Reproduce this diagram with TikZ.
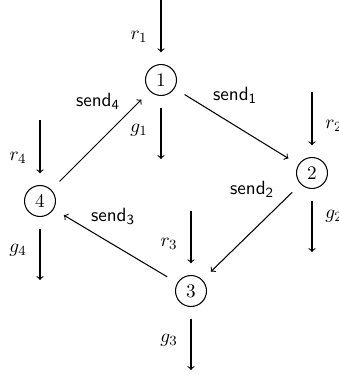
\documentclass[tikz,border=0pt]{standalone}
\usetikzlibrary{arrows}
\begin{document}
\begin{tikzpicture}[x=0.5714pt,y=-0.5714pt,
  every node/.style={font=\fontsize{11}{13}\selectfont},
  proc/.style={circle,draw,semithick,minimum size=17.7pt,inner sep=0pt,outer sep=7pt},
  flow/.style={->,semithick},
  lab/.style={inner sep=0pt}]
\useasboundingbox (0,0) rectangle (338,375);
\clip (0,0) rectangle (338,375);
% processes
\node[proc] (n1) at (161,80) {$1$};
\node[proc] (n2) at (312,173) {$2$};
\node[proc] (n3) at (191,291) {$3$};
\node[proc] (n4) at (40,201) {$4$};
% free ends
\coordinate (r1s) at (161,0);
\coordinate (r2s) at (312,92);
\coordinate (r3s) at (191,211);
\coordinate (r4s) at (40,120);
\coordinate (g1e) at (161,159);
\coordinate (g2e) at (312,252);
\coordinate (g3e) at (191,370);
\coordinate (g4e) at (40,280);
% connectors
\draw[flow] (r1s) -- (n1);
\draw[flow] (r2s) -- (n2);
\draw[flow] (r3s) -- (n3);
\draw[flow] (r4s) -- (n4);
\draw[flow] (n1) -- (g1e);
\draw[flow] (n2) -- (g2e);
\draw[flow] (n3) -- (g3e);
\draw[flow] (n4) -- (g4e);
\draw[flow] (n1) -- (n2);
\draw[flow] (n2) -- (n3);
\draw[flow] (n3) -- (n4);
\draw[flow] (n4) -- (n1);
% labels
\node[lab] (lr1) at (139,37) {$r_1$};
\node[lab] (lg1) at (139,130) {$g_1$};
\node[lab,anchor=west] (lr2) at (325,126) {$r_2$};
\node[lab,anchor=west] (lg2) at (325,216) {$g_2$};
\node[lab] (lr3) at (169,244) {$r_3$};
\node[lab] (lg3) at (169,340) {$g_3$};
\node[lab] (lr4) at (18,158) {$r_4$};
\node[lab] (lg4) at (18,250) {$g_4$};
\node[lab] (s1) at (235,95) {$\mathsf{send_1}$};
\node[lab] (s2) at (252,189) {$\mathsf{send_2}$};
\node[lab] (s3) at (113,216) {$\mathsf{send_3}$};
\node[lab] (s4) at (98,101) {$\mathsf{send_4}$};
\end{tikzpicture}
\end{document}
